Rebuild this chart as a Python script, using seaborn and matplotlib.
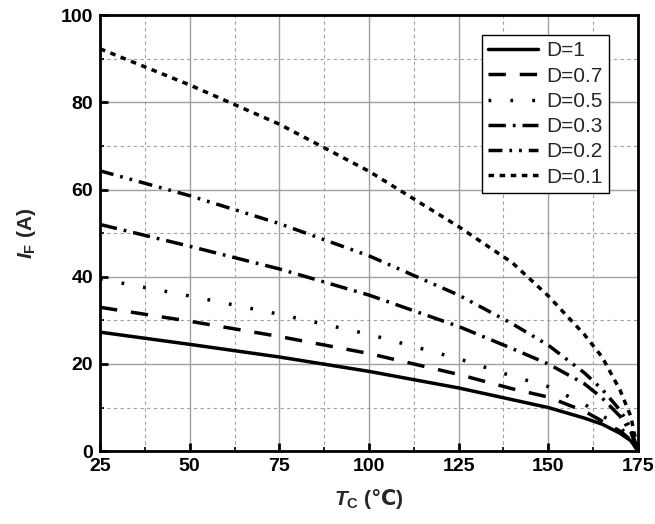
import numpy as np
import pandas as pd
import matplotlib
matplotlib.use("Agg")
import matplotlib.pyplot as plt
import seaborn as sns
from matplotlib.ticker import MultipleLocator

T = [25, 50, 75, 100, 125, 140, 150, 160, 165, 170, 173, 175]
D1 = [27.3, 24.5, 21.6, 18.3, 14.5, 11.8, 10.0, 7.6, 6.2, 4.1, 2.4, 0]
D07 = [33.0, 29.8, 26.3, 22.4, 17.6, 14.3, 12.4, 9.2, 6.9, 4.6, 2.6, 0]
D05 = [39.5, 35.6, 31.4, 26.8, 21.2, 17.2, 14.8, 10.8, 8.2, 5.4, 3.0, 0]
D03 = [52.0, 47.0, 41.8, 35.8, 28.6, 23.5, 20.0, 15.5, 12.2, 8.0, 4.4, 0]
D02 = [64.3, 58.6, 52.2, 44.8, 35.8, 29.2, 24.3, 18.0, 14.2, 9.4, 5.2, 0]
D01 = [92.3, 84.0, 75.0, 64.2, 51.5, 43.2, 35.6, 26.8, 21.6, 14.0, 8.0, 0]
labels = ["D=1", "D=0.7", "D=0.5", "D=0.3", "D=0.2", "D=0.1"]
series = [D1, D07, D05, D03, D02, D01]

rows = []
for lab, ys in zip(labels, series):
    for t, y in zip(T, ys):
        rows.append({"T": t, "I": y, "D": lab})
df = pd.DataFrame(rows)

sns.set_theme(style="white")
plt.rcParams['font.family'] = ['Liberation Sans', 'DejaVu Sans']
plt.rcParams['mathtext.fontset'] = 'custom'
plt.rcParams['mathtext.it'] = 'Liberation Sans:italic:bold'
plt.rcParams['mathtext.bf'] = 'Liberation Sans:bold'
plt.rcParams['mathtext.rm'] = 'DejaVu Sans:bold'

fig = plt.figure(figsize=(6.55, 5.24), dpi=100)
ax = fig.add_axes([0.1527, 0.139, 0.8213, 0.832])

dashes = {
    "D=1": "",
    "D=0.7": (5, 4),
    "D=0.5": (0.8, 5.5),
    "D=0.3": (5, 2, 0.8, 2),
    "D=0.2": (4, 2, 0.8, 2, 0.8, 2),
    "D=0.1": (1.6, 1.6),
}
sns.lineplot(data=df, x="T", y="I", hue="D", style="D", dashes=dashes,
             palette=["black"] * 6, linewidth=2.5, ax=ax, legend=True)

ax.set_xlim(25, 175)
ax.set_ylim(0, 100)
ax.xaxis.set_major_locator(MultipleLocator(25))
ax.xaxis.set_minor_locator(MultipleLocator(12.5))
ax.yaxis.set_major_locator(MultipleLocator(20))
ax.yaxis.set_minor_locator(MultipleLocator(10))
ax.grid(which="major", color="#a0a0a0", linestyle="-", linewidth=1)
ax.grid(which="minor", color="#a0a0a0", linestyle=(0, (3, 3)), linewidth=0.8)
ax.set_axisbelow(True)

for s in ax.spines.values():
    s.set_color("black")
    s.set_linewidth(2)
ax.tick_params(which="major", direction="in", length=6, width=2, colors="black",
               labelsize=14, pad=5, left=True, bottom=True)
ax.tick_params(which="minor", direction="in", length=3, width=1.2, colors="black",
               left=True, bottom=True)
for lab in ax.get_xticklabels() + ax.get_yticklabels():
    lab.set_fontweight("bold")

ax.set_xlabel(r"$\mathit{T}_{\mathbf{C}}$ ($\mathrm{℃}$)", fontsize=15, fontweight="bold", labelpad=8)
ax.set_ylabel(r"$\mathit{I}_{\mathbf{F}}$ (A)", fontsize=15, fontweight="bold", labelpad=16)

leg = ax.legend(loc="upper right", bbox_to_anchor=(0.965, 0.978), fontsize=15,
                frameon=True, fancybox=False, edgecolor="black", framealpha=1,
                handlelength=2.4, borderpad=0.3, labelspacing=0.3, handletextpad=0.4)
leg.get_frame().set_linewidth(1)
for h in leg.get_lines():
    h.set_linewidth(2.5)

fig.savefig("out.png", dpi=100)
